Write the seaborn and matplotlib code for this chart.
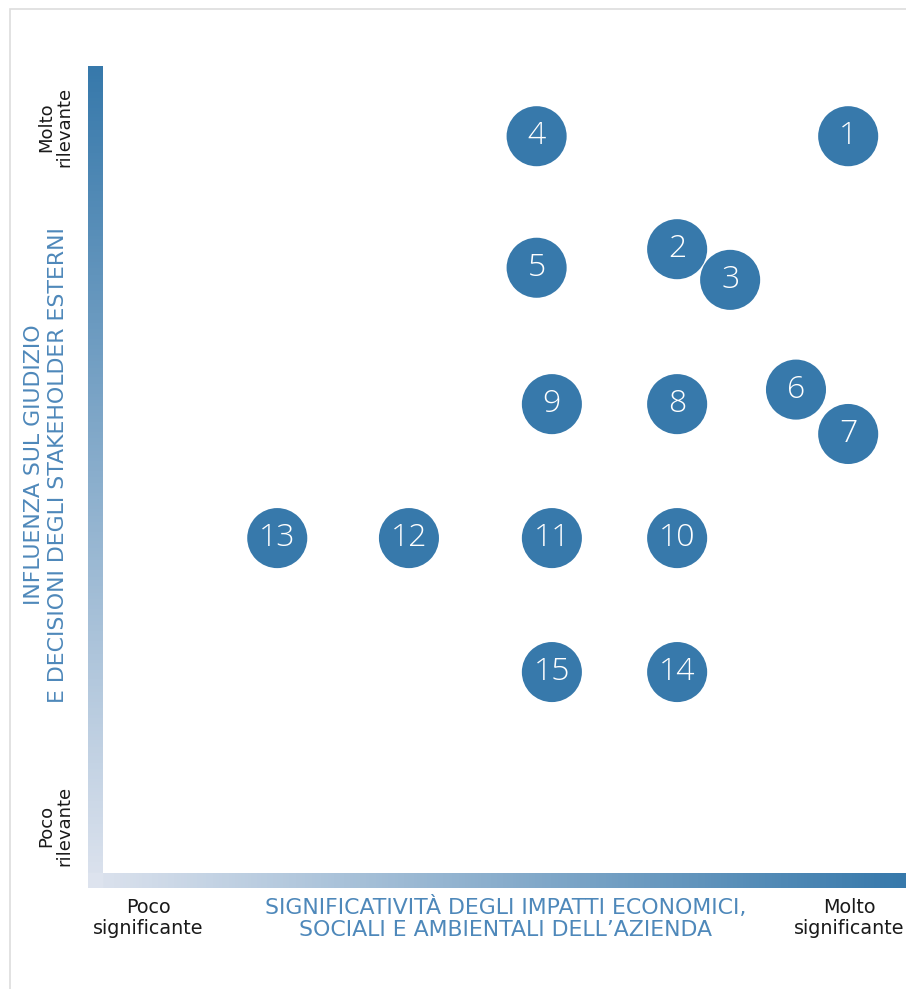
import numpy as np
import pandas as pd
import matplotlib
matplotlib.use("Agg")
import matplotlib.pyplot as plt
from matplotlib.colors import LinearSegmentedColormap
from matplotlib.patches import Rectangle
import seaborn as sns

sns.set_style("white")
plt.rcParams['font.family'] = ['DejaVu Sans']

# Data (scale 0-10 on both axes)
labels = ["1", "2", "3", "4", "5", "6", "7", "8", "9", "10", "11", "12", "13", "14", "15"]
impatti = [9.28, 7.15, 7.81, 5.40, 5.40, 8.63, 9.28, 7.15, 5.59, 7.15, 5.59, 3.81, 2.17, 7.15, 5.59]
influenza = [9.13, 7.73, 7.35, 9.13, 7.50, 5.99, 5.44, 5.81, 5.81, 4.15, 4.15, 4.15, 4.15, 2.49, 2.49]

x_title = "SIGNIFICATIVITÀ DEGLI IMPATTI ECONOMICI,\nSOCIALI E AMBIENTALI DELL’AZIENDA"
y_title = "INFLUENZA SUL GIUDIZIO\nE DECISIONI DEGLI STAKEHOLDER ESTERNI"
x_low, x_high = "Poco\nsignificante", "Molto\nsignificante"
y_low, y_high = "Poco\nrilevante", "Molto\nrilevante"

df = pd.DataFrame({"label": labels, "x": impatti, "y": influenza})

W, H = 906, 989
BLUE = "#3779AB"
LIGHT = "#DDE3EE"
TITLE_BLUE = "#4E88BA"

fig = plt.figure(figsize=(W / 100, H / 100), dpi=100)

def fx(px):
    return px / W

def fy(py):
    return 1 - py / H

# border
fig.patches.append(Rectangle((fx(10), fy(1200)), fx(1000), fy(9) - fy(1200),
                             transform=fig.transFigure, fill=False,
                             edgecolor="#DDDDDD", lw=1.2, zorder=0))

cmap = LinearSegmentedColormap.from_list("g", [LIGHT, BLUE])

# vertical gradient bar
axv = fig.add_axes([fx(88), fy(888), fx(103) - fx(88), fy(66) - fy(888)])
grad_v = np.linspace(0, 1, 256).reshape(-1, 1)
axv.imshow(grad_v, aspect="auto", cmap=cmap, origin="lower", extent=[0, 1, 0, 1])
axv.set_axis_off()

# horizontal gradient bar
axh = fig.add_axes([fx(88), fy(888), fx(906) - fx(88), fy(873) - fy(888)])
grad_h = np.linspace(0, 1, 256).reshape(1, -1)
axh.imshow(grad_h, aspect="auto", cmap=cmap, origin="lower", extent=[0, 1, 0, 1])
axh.set_axis_off()
# corner
axc = fig.add_axes([fx(88), fy(888), fx(103) - fx(88), fy(873) - fy(888)])
axc.set_facecolor(LIGHT)
axc.set_xticks([]); axc.set_yticks([])
for s in axc.spines.values():
    s.set_visible(False)

# main axes
ax = fig.add_axes([fx(103), fy(873), fx(906) - fx(103), fy(66) - fy(873)])
ax.set_facecolor("none")
sns.scatterplot(data=df, x="x", y="y", ax=ax, s=1870, color=BLUE,
                edgecolor="none", linewidth=0, legend=False, clip_on=False, zorder=3)
for _, r in df.iterrows():
    ax.text(r["x"], r["y"], r["label"], color="white", fontsize=23,
            family=["Open Sans", "DejaVu Sans"], fontweight="light",
            ha="center", va="center", zorder=4)
ax.set_xlim(0, 10)
ax.set_ylim(0, 10)
ax.set_xticks([]); ax.set_yticks([])
ax.set_xlabel(""); ax.set_ylabel("")
for s in ax.spines.values():
    s.set_visible(False)

# texts
fig.text(fx(55), fy(127), y_high, rotation=90, ha="center", va="center",
         fontsize=13, color="#1a1a1a", linespacing=1.0)
fig.text(fx(55), fy(826), y_low, rotation=90, ha="center", va="center",
         fontsize=13, color="#1a1a1a", linespacing=1.0)
fig.text(fx(46), fy(465), y_title, rotation=90, ha="center", va="center",
         fontsize=15.8, color=TITLE_BLUE, linespacing=1.2)
fig.text(fx(148), fy(918), x_low, ha="center", va="center",
         fontsize=13.8, color="#1a1a1a", linespacing=1.1)
fig.text(fx(849), fy(918), x_high, ha="center", va="center",
         fontsize=13.8, color="#1a1a1a", linespacing=1.1)
fig.text(fx(506), fy(918), x_title, ha="center", va="center",
         fontsize=15.8, color=TITLE_BLUE, linespacing=1.15)

fig.savefig("out.png", dpi=100)
